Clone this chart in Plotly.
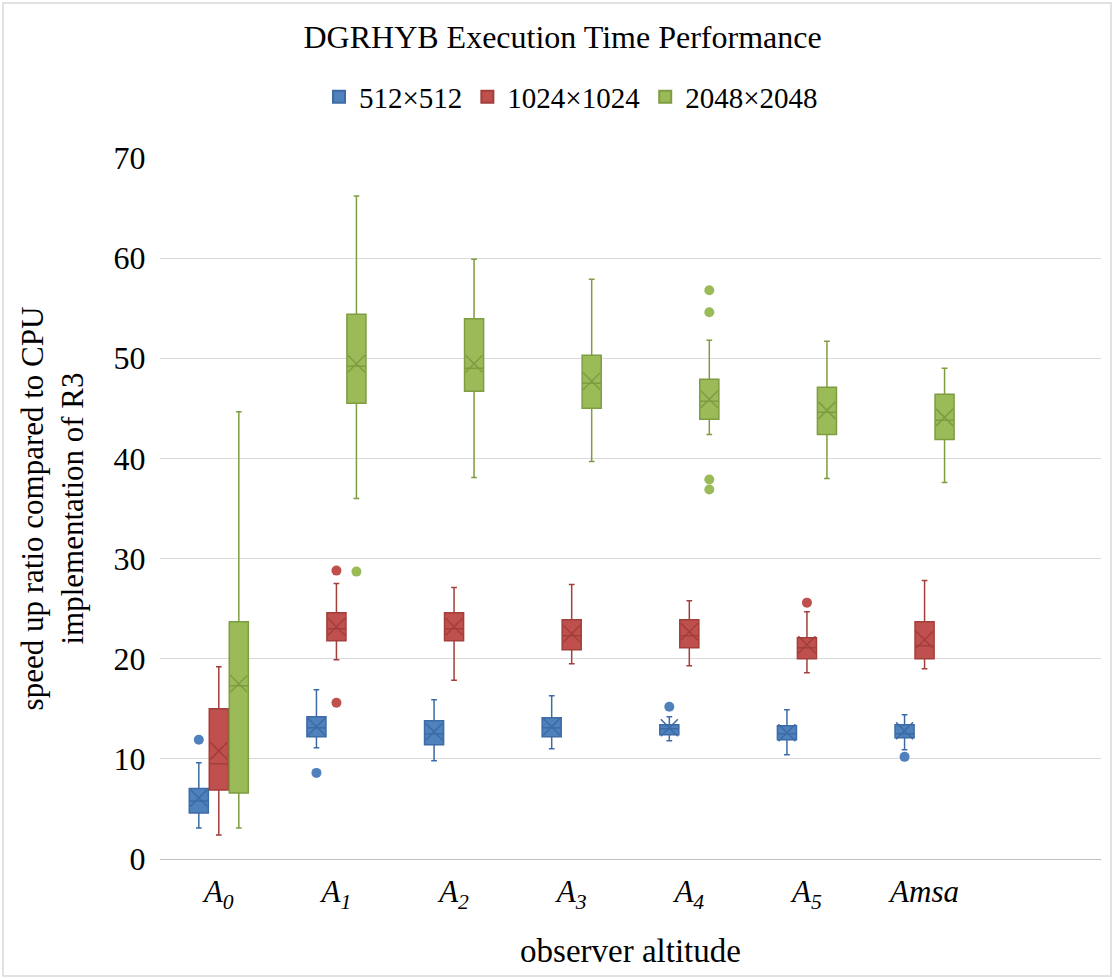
import plotly.graph_objects as go

categories = ["<i>A<sub>0</sub></i>", "<i>A<sub>1</sub></i>", "<i>A<sub>2</sub></i>",
              "<i>A<sub>3</sub></i>", "<i>A<sub>4</sub></i>", "<i>A<sub>5</sub></i>",
              "<i>Amsa</i>"]
series_names = ["512×512", "1024×1024", "2048×2048"]

# 512x512
b_q1 = [4.6, 12.2, 11.4, 12.2, 12.4, 11.9, 12.1]
b_med = [5.8, 13.1, 12.5, 13.1, 13.0, 12.5, 12.5]
b_q3 = [7.05, 14.2, 13.8, 14.1, 13.4, 13.3, 13.4]
b_lo = [3.1, 11.1, 9.8, 11.0, 11.8, 10.4, 10.9]
b_hi = [9.6, 16.9, 15.9, 16.3, 14.2, 14.9, 14.4]
b_mean = [6.1, 13.2, 12.7, 13.2, 13.1, 12.6, 12.8]
b_out_cat = [0, 1, 4, 6]
b_out_val = [11.9, 8.6, 15.2, 10.2]

# 1024x1024
r_q1 = [6.9, 21.8, 21.8, 20.9, 21.1, 20.0, 20.0]
r_med = [9.5, 23.0, 23.0, 22.3, 22.3, 21.1, 21.3]
r_q3 = [15.0, 24.6, 24.6, 23.9, 23.9, 22.1, 23.7]
r_lo = [2.4, 19.9, 17.85, 19.5, 19.3, 18.6, 19.0]
r_hi = [19.2, 27.5, 27.1, 27.4, 25.8, 24.7, 27.8]
r_mean = [10.8, 23.2, 23.2, 22.5, 22.7, 21.4, 21.9]
r_out_cat = [1, 1, 5]
r_out_val = [28.8, 15.6, 25.6]

# 2048x2048
g_q1 = [6.6, 45.5, 46.7, 45.0, 43.9, 42.4, 41.9]
g_med = [17.3, 49.2, 49.0, 47.5, 45.7, 44.6, 43.8]
g_q3 = [23.7, 54.4, 53.95, 50.3, 47.9, 47.1, 46.4]
g_lo = [3.1, 36.0, 38.1, 39.7, 42.4, 38.0, 37.6]
g_hi = [44.65, 66.2, 59.9, 57.9, 51.8, 51.7, 49.0]
g_mean = [17.5, 49.45, 49.45, 47.7, 45.9, 44.8, 44.1]
g_out_cat = [1, 4, 4, 4, 4]
g_out_val = [28.7, 56.8, 54.6, 37.9, 36.9]

fills = ["#4F81BD", "#C0504D", "#9BBB59"]
lines = ["#3C6BA5", "#A23E3B", "#7E9C40"]

data = [
    (b_q1, b_med, b_q3, b_lo, b_hi, b_mean, b_out_cat, b_out_val),
    (r_q1, r_med, r_q3, r_lo, r_hi, r_mean, r_out_cat, r_out_val),
    (g_q1, g_med, g_q3, g_lo, g_hi, g_mean, g_out_cat, g_out_val),
]

FONT = "Liberation Serif"
box_w = 0.162
step = 0.17

fig = go.Figure()
for s, (q1, med, q3, lo, hi, mean, oc, ov) in enumerate(data):
    off = (s - 1) * step
    xs = [i + off for i in range(len(categories))]
    fig.add_trace(go.Box(
        x=xs, q1=q1, median=med, q3=q3, lowerfence=lo, upperfence=hi,
        width=box_w, whiskerwidth=0.3, fillcolor=fills[s],
        line=dict(color=lines[s], width=1.5), showlegend=False,
        boxpoints=False, hoverinfo="skip",
    ))
    fig.add_trace(go.Scatter(
        x=xs, y=mean, mode="markers", showlegend=False, hoverinfo="skip",
        marker=dict(symbol="x-thin-open", size=17, color=lines[s],
                    line=dict(color=lines[s], width=1.5)),
    ))
    fig.add_trace(go.Scatter(
        x=[c + off for c in oc], y=ov, mode="markers", showlegend=False,
        hoverinfo="skip",
        marker=dict(symbol="circle", size=10, color=fills[s],
                    line=dict(color=fills[s], width=0)),
    ))
    fig.add_trace(go.Scatter(
        x=[None], y=[None], mode="markers", name=series_names[s],
        marker=dict(symbol="square", size=21, color=fills[s],
                    line=dict(color=lines[s], width=1)),
    ))

W, H = 1114, 979
ml, mr, mt, mb = 160, 13, 158, 120
pw, ph = W - ml - mr, H - mt - mb

fig.update_layout(
    width=W, height=H,
    margin=dict(l=ml, r=mr, t=mt, b=mb, autoexpand=False),
    paper_bgcolor="white", plot_bgcolor="white",
    font=dict(family=FONT, color="#000000", size=26),
    title=dict(text="DGRHYB Execution Time Performance", x=0.505, xanchor="center",
               y=1 - 37 / H, yanchor="middle", font=dict(size=32, family=FONT)),
    legend=dict(orientation="h", x=(571 - ml) / pw, xanchor="center",
                y=1 + (mt - 97) / ph, yanchor="middle",
                font=dict(size=29, family=FONT),
                itemsizing="constant", traceorder="normal"),
    xaxis=dict(range=[-0.5, 7.5], tickmode="array",
               tickvals=list(range(len(categories))), ticktext=categories,
               showgrid=False, zeroline=False, showline=False,
               ticks="outside", ticklen=5, tickcolor="rgba(0,0,0,0)",
               tickfont=dict(size=31, family=FONT),
               title=dict(text="observer altitude", font=dict(size=33, family=FONT),
                          standoff=26)),
    yaxis=dict(range=[0, 70], dtick=10, showgrid=True, gridcolor="#D9D9D9",
               gridwidth=1.3, zeroline=True, zerolinecolor="#BFBFBF",
               zerolinewidth=1.3, showline=False,
               ticks="outside", ticklen=7, tickcolor="rgba(0,0,0,0)",
               tickfont=dict(size=32, family=FONT),
               title=dict(text="speed up ratio compared to CPU<br>implementation of R3",
                          font=dict(size=31, family=FONT), standoff=20)),
    shapes=[dict(type="rect", xref="paper", yref="paper",
                 x0=-(ml - 3) / pw, x1=1 + (mr - 3) / pw,
                 y0=-(mb - 3) / ph, y1=1 + (mt - 3) / ph,
                 line=dict(color="#D9D9D9", width=1.5), fillcolor="rgba(0,0,0,0)",
                 layer="below")],
)

fig.write_html("out.html")
